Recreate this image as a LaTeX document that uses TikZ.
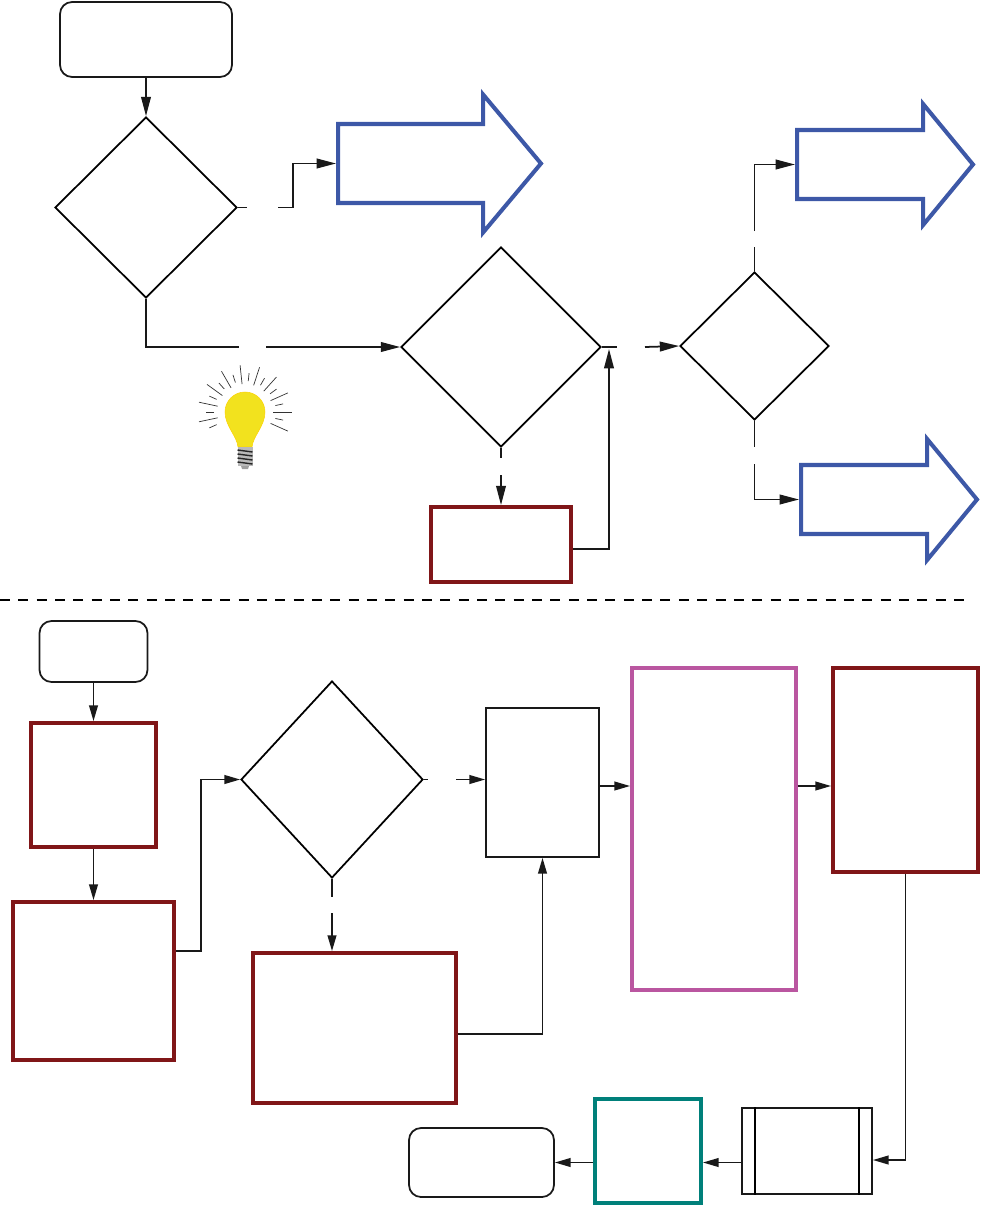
\documentclass[tikz,border=0pt]{standalone}
\usepackage{tikz}
\usetikzlibrary{shapes.geometric, shapes.arrows, arrows.meta, calc}
\definecolor{flowblue}{RGB}{61, 88, 167}
\definecolor{flowred}{RGB}{128, 22, 24}
\definecolor{flowpink}{RGB}{186, 86, 160}
\definecolor{flowteal}{RGB}{0, 128, 122}
\definecolor{bulbyellow}{RGB}{242, 226, 30}

\begin{document}
\begin{tikzpicture}[x=0.02cm, y=-0.02cm,
  conn/.style={line width=1pt, black!90},
  arr/.style={conn, -{Triangle[length=11pt, width=5.5pt]}},
  arrlow/.style={conn, -{Triangle[length=9pt, width=5pt]}},
  terminal/.style={draw, black!90, line width=1pt, rounded corners=0.24cm, inner sep=0pt},
  decision/.style={diamond, draw, line width=1pt, inner sep=0pt},
  plainbox/.style={draw, black!90, line width=1pt, inner sep=0pt},
  colbox/.style={draw=#1, line width=2.2pt, inner sep=0pt},
  redbox/.style={colbox=flowred},
  outcome/.style={single arrow, draw=flowblue, line width=2.3pt, inner xsep=0pt,
    single arrow tip angle=100, anchor=tail}
]
  \useasboundingbox (0,0) rectangle (981,1206);

  % Upper chart
  \node[terminal, minimum width=3.44cm, minimum height=1.5cm] (start1) at (146,39.5) {};
  \node[decision, minimum width=3.64cm, minimum height=3.62cm] (dec1) at (146,207.5) {};
  \node[outcome, inner ysep=0.75cm, minimum height=4.06cm, single arrow head extend=0.59cm] (out1) at (336,163.5) {};
  \node[decision, minimum width=4cm, minimum height=4cm] (dec2) at (501,347) {};
  \node[redbox, minimum width=2.8cm, minimum height=1.5cm] (red1) at (501,544.5) {};
  \node[decision, minimum width=2.98cm, minimum height=2.96cm] (dec3) at (754.5,346) {};
  \node[outcome, inner ysep=0.65cm, minimum height=3.52cm, single arrow head extend=0.52cm, single arrow tip angle=101] (out2) at (795,164.5) {};
  \node[outcome, inner ysep=0.65cm, minimum height=3.52cm, single arrow head extend=0.52cm, single arrow tip angle=101] (out3) at (799,499.5) {};

  \draw[arr] (start1.south) -- (dec1.north);

  \coordinate (gapA1) at (247,207.5);
  \coordinate (gapA2) at (278,207.5);
  \draw[conn] (dec1.east) -- (gapA1);
  \draw[arr] (gapA2) -- ++(15,0) |- (out1.tail);

  \coordinate (gapB1) at (239,347);
  \coordinate (gapB2) at (266,347);
  \draw[conn] (dec1.south) |- (gapB1);
  \draw[arr] (gapB2) -- (dec2.west);

  \coordinate (gapC1) at (501,458);
  \coordinate (gapC2) at (501,475);
  \draw[conn] (dec2.south) -- (gapC1);
  \draw[arr] (gapC2) -- (red1.north);

  \coordinate (loopin) at (609,349);
  \draw[arr] ([yshift=-0.09cm]red1.east) -| (loopin);

  \coordinate (gapD1) at (617,347);
  \coordinate (gapD2) at (645,347);
  \draw[conn] (dec2.east) -- (gapD1);
  \draw[arr] (gapD2) -- (dec3.west);

  \coordinate (gapE1) at (754.5,247);
  \coordinate (gapE2) at (754.5,231);
  \draw[conn] (dec3.north) -- (gapE1);
  \draw[arr] (gapE2) |- (out2.tail);

  \coordinate (gapF1) at (754.5,447);
  \coordinate (gapF2) at (754.5,464);
  \draw[conn] (dec3.south) -- (gapF1);
  \draw[arr] (gapF2) |- (out3.tail);

  % Light bulb
  \begin{scope}[shift={(245,412)}, x=0.02cm, y=0.02cm]
    \foreach \a [count=\i] in {-24,-12,...,204} {
      \pgfmathsetmacro\rin{isodd(\i) ? 28 : 31}
      \pgfmathsetmacro\rout{isodd(\i) ? 47 : 39}
      \draw[line width=0.4pt, black!80] (\a:\rin) -- (\a:\rout);
    }
    \fill[bulbyellow, draw=yellow!70!orange, line width=0.3pt] (-7,-35) .. controls (-8,-24) and (-20,-14) .. (-20,0)
      arc[start angle=180, end angle=0, radius=20]
      .. controls (20,-14) and (8,-24) .. (7,-35) -- cycle;
    \fill[gray!55] (-7.5,-35) rectangle (7.5,-54);
    \foreach \yy in {-38,-42,-46,-50}
      \draw[gray!30!black, line width=0.8pt] (-7.5,\yy) -- (7.5,\yy-2);
    \fill[gray!75] (-4,-54) -- (4,-54) -- (3,-57) -- (-3,-57) -- cycle;
  \end{scope}

  % Separator
  \coordinate (sepL) at (0,600);
  \coordinate (sepR) at (970,600);
  \draw[line width=0.6pt, dash pattern=on 0.2cm off 0.167cm] (sepL) -- (sepR);

  % Lower chart
  \node[terminal, minimum width=2.16cm, minimum height=1.22cm] (start2) at (93.5,651.5) {};
  \node[redbox, minimum width=2.5cm, minimum height=2.48cm] (stepA) at (93.5,785) {};
  \node[redbox, minimum width=3.22cm, minimum height=3.16cm] (stepB) at (93.5,981) {};
  \node[decision, minimum width=3.64cm, minimum height=3.94cm] (dec4) at (332,779.5) {};
  \node[redbox, minimum width=4.06cm, minimum height=3cm] (stepC) at (354.3,1028) {};
  \node[plainbox, minimum width=2.26cm, minimum height=2.98cm] (stepG) at (542.5,782.5) {};
  \node[colbox=flowpink, minimum width=3.28cm, minimum height=6.44cm] (stepP) at (714,829) {};
  \node[redbox, minimum width=2.9cm, minimum height=4.08cm] (stepD) at (905.5,770) {};
  \node[plainbox, minimum width=2.6cm, minimum height=1.72cm] (proc) at (807,1151) {};
  \draw[line width=1pt] ([xshift=0.28cm]proc.north west) -- ([xshift=0.28cm]proc.south west);
  \draw[line width=1pt] ([xshift=-0.28cm]proc.north east) -- ([xshift=-0.28cm]proc.south east);
  \node[colbox=flowteal, minimum width=2.12cm, minimum height=2.08cm] (stepT) at (648,1151) {};
  \node[terminal, minimum width=2.9cm, minimum height=1.38cm] (end2) at (481.5,1162.5) {};

  \draw[arrlow] (start2.south) -- (stepA.north);
  \draw[arrlow] (stepA.south) -- (stepB.north);
  \draw[arrlow] ([yshift=0.6cm]stepB.east) -- ++(25,0) |- (dec4.west);

  \coordinate (gapG1) at (428,779.5);
  \coordinate (gapG2) at (456,779.5);
  \draw[conn] (dec4.east) -- (gapG1);
  \draw[arrlow] (gapG2) -- (gapG2 -| stepG.west);

  \coordinate (gapH1) at (332,897);
  \coordinate (gapH2) at (332,913);
  \draw[conn] (dec4.south) -- (gapH1);
  \draw[arrlow] (gapH2) -- (gapH2 |- stepC.north);

  \draw[arrlow] ([yshift=-0.12cm]stepC.east) -| (stepG.south);

  \coordinate (rowP) at ([yshift=-0.07cm]stepG.east);
  \draw[arrlow] (rowP) -- (rowP -| stepP.west);
  \draw[arrlow] (rowP -| stepP.east) -- (rowP -| stepD.west);
  \draw[arrlow] (stepD.south) |- ([yshift=-0.18cm]proc.east);
  \draw[arrlow] (proc.west |- end2.east) -- (stepT.east |- end2.east);
  \draw[arrlow] (stepT.west |- end2.east) -- (end2.east);
\end{tikzpicture}
\end{document}
